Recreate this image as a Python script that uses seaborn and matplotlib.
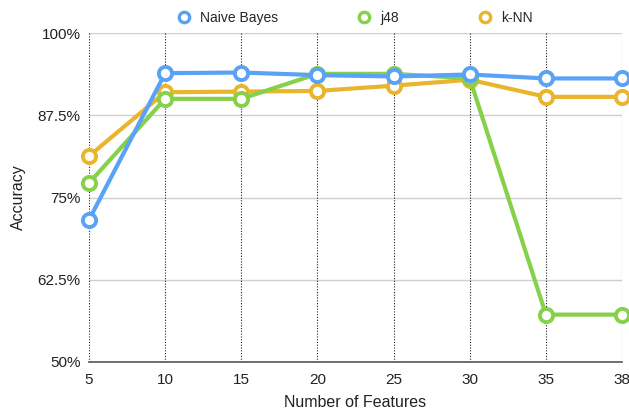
import matplotlib
matplotlib.use("Agg")
import matplotlib.pyplot as plt
from matplotlib.lines import Line2D
import numpy as np
import pandas as pd
import seaborn as sns

features    = [5, 10, 15, 20, 25, 30, 35, 38]
naive_bayes = [71.6, 93.9, 94.0, 93.6, 93.4, 93.7, 93.1, 93.1]
j48         = [77.2, 90.0, 90.0, 93.8, 93.8, 93.1, 57.2, 57.2]
knn         = [81.3, 91.0, 91.1, 91.2, 92.0, 92.9, 90.3, 90.3]
y_ticks     = [50, 62.5, 75, 87.5, 100]
y_labels    = ["50%", "62.5%", "75%", "87.5%", "100%"]

series = {"Naive Bayes": naive_bayes, "j48": j48, "k-NN": knn}
colors = {"Naive Bayes": "#5aa2f6", "j48": "#86d14a", "k-NN": "#e9b52c"}

rows = []
for name, vals in series.items():
    for i, (f, v) in enumerate(zip(features, vals)):
        rows.append({"pos": i, "features": f, "acc": v, "model": name})
df = pd.DataFrame(rows)

sns.set_style("white")
plt.rcParams["font.family"] = ["Liberation Sans", "DejaVu Sans"]

fig = plt.figure(figsize=(6.29, 4.13), dpi=100)
ax = fig.add_axes([0.1415, 0.1235, 0.8475, 0.7965])

# grid first so lines sit on top
for yv in y_ticks[1:]:
    ax.axhline(yv, color="#cfcfcf", lw=1.0, zorder=0)
for i in range(len(features)):
    ax.axvline(i, color="#222222", lw=0.8, ls=(0, (1, 1.5)), zorder=0.5)

for name in ["k-NN", "j48", "Naive Bayes"]:
    sns.lineplot(data=df[df.model == name], x="pos", y="acc", ax=ax,
                 color=colors[name], lw=3, marker="o", markersize=9.5,
                 markerfacecolor="white", markeredgecolor=colors[name],
                 markeredgewidth=2.8, legend=False, zorder=3, clip_on=False)

ax.set_xlim(0, len(features) - 1)
ax.set_ylim(50, 100)
ax.set_xticks(range(len(features)))
ax.set_xticklabels([str(f) for f in features])
ax.set_yticks(y_ticks)
ax.set_yticklabels(y_labels)
ax.tick_params(axis="both", length=0, labelsize=11, colors="#222222", pad=6)
ax.tick_params(axis="x", pad=8)

for s in ["top", "right", "left"]:
    ax.spines[s].set_visible(False)
ax.spines["bottom"].set_color("#555555")
ax.spines["bottom"].set_linewidth(1.2)

ax.set_xlabel("Number of Features", fontsize=11.5, color="#222222", labelpad=6)
ax.set_ylabel("Accuracy", fontsize=11.5, color="#222222", labelpad=8)

handles = [Line2D([], [], ls="none", marker="o", markersize=7.5,
                  markerfacecolor="white", markeredgecolor=colors[n],
                  markeredgewidth=2.4) for n in series]
fig.legend(handles, list(series), loc="center", bbox_to_anchor=(0.563, 0.956),
           ncol=3, frameon=False, fontsize=10, columnspacing=5.6,
           handletextpad=0.55, handlelength=1.2)

plt.savefig("out.png", dpi=100)
